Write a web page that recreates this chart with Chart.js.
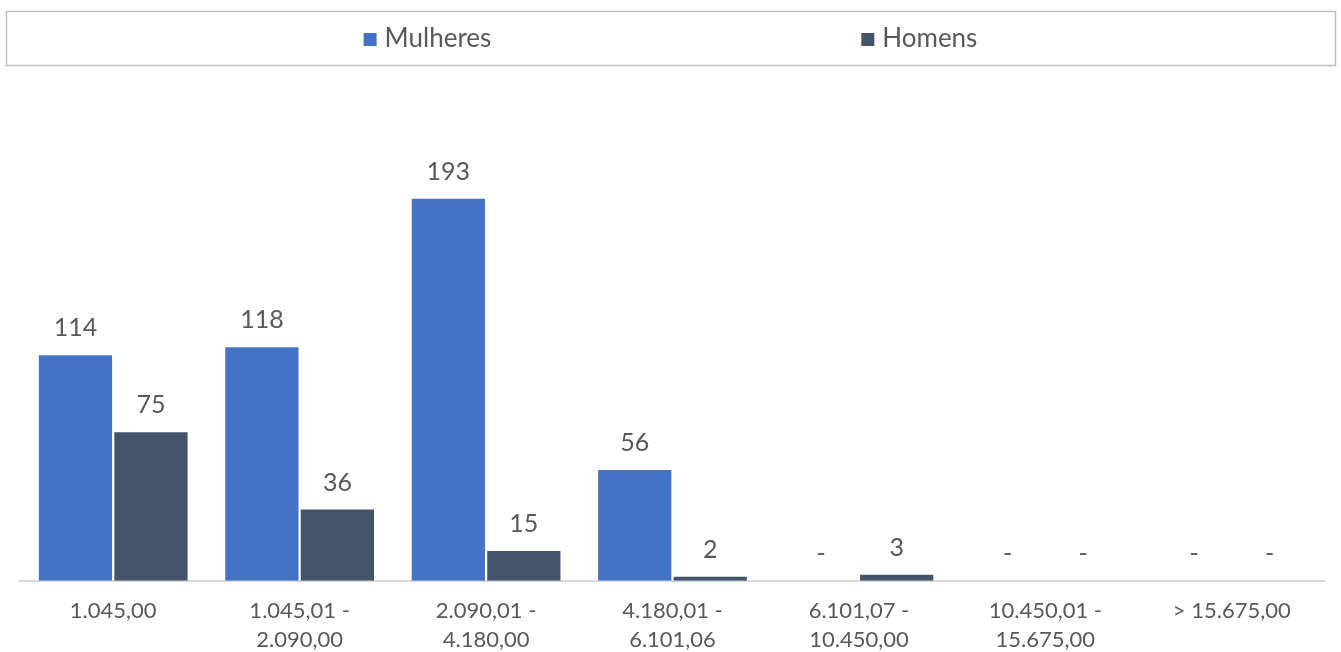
<!DOCTYPE html>
<html>
<head>
<meta charset="utf-8">
<script src="https://cdn.jsdelivr.net/npm/chart.js@4"></script>
<style>
  html, body { margin: 0; padding: 0; background: #fff; }
  #wrap { width: 1341px; height: 652px; position: relative; }
</style>
</head>
<body>
<div id="wrap"><canvas id="chart"></canvas></div>
<script>
const categories = [
  ['1.045,00'],
  ['1.045,01 -', '2.090,00'],
  ['2.090,01 -', '4.180,00'],
  ['4.180,01 -', '6.101,06'],
  ['6.101,07 -', '10.450,00'],
  ['10.450,01 -', '15.675,00'],
  ['> 15.675,00']
];
const mulheres = [114, 118, 193, 56, 0, 0, 0];
const homens = [75, 36, 15, 2, 3, 0, 0];

const FONT = 'Lato, "Open Sans", sans-serif';
const TEXT = '#595959';

// legenda desenhada à mão, dentro de uma caixa
const boxLegend = {
  id: 'boxLegend',
  afterDraw(chart) {
    const ctx = chart.ctx;
    ctx.save();
    ctx.strokeStyle = '#bfbfbf';
    ctx.lineWidth = 1.5;
    ctx.strokeRect(6.5, 11.5, 1329, 54);

    ctx.font = '26px ' + FONT;
    ctx.textBaseline = 'middle';
    const gap = 370;
    const items = chart.data.datasets.map(ds => ({
      label: ds.label, color: ds.backgroundColor,
      w: 13 + 8 + ctx.measureText(ds.label).width
    }));
    const total = items.reduce((s, it) => s + it.w, 0) + gap * (items.length - 1);
    let x = chart.width / 2 - total / 2;
    const y = 39;
    items.forEach(it => {
      ctx.fillStyle = it.color;
      ctx.fillRect(x, y - 6, 13, 13);
      ctx.fillStyle = TEXT;
      ctx.textAlign = 'left';
      ctx.fillText(it.label, x + 21, y);
      x += it.w + gap;
    });
    ctx.restore();
  }
};

// rótulos de valor acima das barras ("-" quando zero)
const valueLabels = {
  id: 'valueLabels',
  afterDatasetsDraw(chart) {
    const ctx = chart.ctx;
    ctx.save();
    ctx.font = '25px ' + FONT;
    ctx.fillStyle = TEXT;
    ctx.textAlign = 'center';
    ctx.textBaseline = 'middle';
    chart.data.datasets.forEach((ds, i) => {
      chart.getDatasetMeta(i).data.forEach((bar, j) => {
        const v = ds.data[j];
        ctx.fillText(v === 0 ? '-' : String(v), bar.x, bar.y - 27);
      });
    });
    ctx.restore();
  }
};

new Chart(document.getElementById('chart'), {
  type: 'bar',
  data: {
    labels: categories,
    datasets: [
      { label: 'Mulheres', data: mulheres, backgroundColor: '#4472C4' },
      { label: 'Homens', data: homens, backgroundColor: '#44546A' }
    ]
  },
  options: {
    responsive: true,
    maintainAspectRatio: false,
    animation: false,
    layout: { padding: { top: 86, left: 20, right: 16, bottom: -18 } },
    datasets: { bar: { barPercentage: 0.97, categoryPercentage: 0.81 } },
    plugins: {
      legend: { display: false },
      tooltip: { enabled: false }
    },
    scales: {
      x: {
        grid: { display: false, drawTicks: false },
        border: { display: true, color: '#d9d9d9', width: 2 },
        ticks: {
          color: TEXT,
          font: { family: FONT, size: 22, lineHeight: 1.3 },
          padding: 16,
          maxRotation: 0,
          autoSkip: false
        }
      },
      y: {
        display: false,
        min: 0,
        max: 250
      }
    }
  },
  plugins: [boxLegend, valueLabels]
});
</script>
</body>
</html>
